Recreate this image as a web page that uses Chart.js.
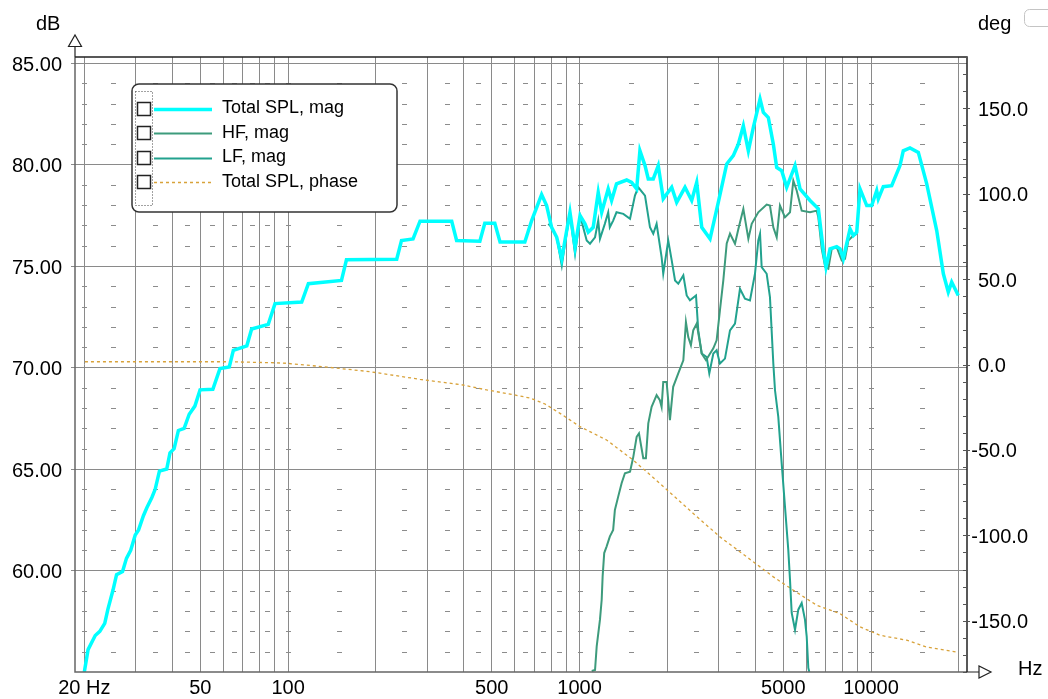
<!DOCTYPE html>
<html>
<head>
<meta charset="utf-8">
<script src="https://cdn.jsdelivr.net/npm/chart.js@4.4.1/dist/chart.umd.min.js"></script>
<style>
  html, body { margin: 0; padding: 0; background: #fff; }
  #wrap { width: 1048px; height: 699px; }
</style>
</head>
<body>
<div id="wrap"><canvas id="spl" width="1048" height="699"></canvas></div>
<script>
const FONT = "'Liberation Sans', Arial, sans-serif";

// axis layout
const gridFreqs = [20, 30, 40, 50, 60, 70, 80, 90, 100, 200, 300, 400, 500, 600, 700, 800, 900,
  1000, 2000, 3000, 4000, 5000, 6000, 7000, 8000, 9000, 10000, 20000];
const dashFreqs = [20, 25, 35, 45, 55, 65, 75, 85, 100, 150, 250, 350, 450, 550, 650, 750, 850,
  1000, 1500, 2500, 3500, 4500, 5500, 6500, 7500, 8500, 10000, 15000];
const freqLabels = { 20: "20 Hz", 50: "50", 100: "100", 500: "500", 1000: "1000", 5000: "5000", 10000: "10000" };
const dbTicks = [60, 65, 70, 75, 80, 85];
const minorDb = [56, 57, 58, 59, 61, 62, 63, 64, 66, 67, 68, 69, 71, 72, 73, 74, 76, 77, 78, 79, 81, 82, 83, 84];
const degTicks = [-180, -170, -160, -150, -140, -130, -120, -110, -100, -90, -80, -70, -60, -50, -40, -30, -20, -10,
  0, 10, 20, 30, 40, 50, 60, 70, 80, 90, 100, 110, 120, 130, 140, 150, 160, 170, 180];
const degLabels = [-150, -100, -50, 0, 50, 100, 150];

// Total SPL, mag
const totalFreq = [20, 20.6, 21.8, 22.6, 23.5, 24.1, 25.1, 25.8, 27.05, 27.9,
  28.85, 29.9, 30.7, 31.9, 32.8, 34.1, 35.0, 36.2, 38.35, 39.35,
  40.65, 42.05, 44.0, 45.8, 47.9, 49.9, 55.2, 58.4, 62.85, 64.9,
  72.2, 75.0, 85.5, 90.2, 111.4, 117.4, 152.5, 158.6, 235.9, 245,
  268.4, 283.6, 364.3, 378.6, 455, 473, 512, 533.7, 649, 685,
  741, 771, 802, 835, 869, 891, 927, 965, 1004, 1044,
  1071, 1114, 1159, 1191, 1254, 1288, 1339, 1451, 1509, 1570,
  1611, 1677, 1721, 1790, 1862, 1937, 2071, 2154, 2300, 2425,
  2523, 2625, 2803, 2992, 3198, 3369, 3506, 3647, 3794, 3947,
  4161, 4271, 4442, 4621, 4746, 4937, 5136, 5485, 5706, 6176,
  6595, 6860, 7008, 7233, 7625, 7828, 8032, 8471, 8695, 8932,
  9166, 9666, 10054, 10457, 10590, 11016, 11772, 12569, 12899, 13602,
  14528, 15525, 16800, 17704, 18407, 18908, 19920];
const totalDb = [55.0, 56.1, 56.8, 57.0, 57.4, 58.1, 59.05, 59.8, 59.95, 60.6,
  61.0, 61.75, 62.0, 62.7, 63.1, 63.6, 64.0, 64.9, 65.0, 65.8,
  66.0, 66.9, 67.0, 67.7, 68.1, 68.9, 68.93, 69.95, 70.03, 70.85,
  71.07, 71.9, 72.13, 73.15, 73.23, 74.13, 74.29, 75.31, 75.34, 76.26,
  76.34, 77.21, 77.21, 76.26, 76.22, 77.11, 77.11, 76.18, 76.18, 77.24,
  78.52, 77.98, 76.91, 76.42, 75.36, 76.26, 77.65, 75.93, 77.49, 77.08,
  76.67, 76.91, 78.63, 77.65, 78.80, 78.23, 79.05, 79.24, 79.12, 78.80,
  80.68, 79.95, 79.29, 79.29, 79.95, 78.31, 78.88, 78.14, 78.88, 78.23,
  79.12, 76.91, 76.34, 78.14, 80.03, 80.44, 81.01, 81.91, 80.68, 81.83,
  83.23, 82.57, 82.32, 81.01, 79.86, 79.70, 78.88, 79.95, 78.80, 78.23,
  77.82, 75.77, 74.95, 75.85, 75.96, 75.85, 75.36, 76.83, 76.50, 76.67,
  78.80, 77.98, 77.98, 78.72, 78.31, 78.91, 78.96, 79.95, 80.68, 80.82,
  80.60, 79.05, 76.75, 74.62, 73.72, 74.21, 73.55];

// HF, mag
const hfFreq = [1101, 1130, 1145, 1175, 1191, 1200, 1215, 1238, 1270, 1304,
  1322, 1357, 1394, 1431, 1490, 1529, 1570, 1599, 1654, 1689,
  1721, 1767, 1838, 1886, 1912, 1937, 1989, 2042, 2095, 2181,
  2270, 2317, 2360, 2410, 2455, 2523, 2625, 2715, 2877, 2953,
  3031, 3113, 3198, 3282, 3414, 3506, 3647, 3794, 3896, 4104,
  4385, 4500, 4621, 4746, 4870, 5067, 5272, 5412, 5557, 5782,
  6176, 6512, 6595, 6774, 6966, 7136, 7330, 7625, 7932, 8141,
  8357, 8695, 8932];
const hfDb = [55.05, 55.1, 56.26, 57.58, 58.56, 59.71, 60.86, 61.18, 61.67, 62.0,
  62.98, 63.64, 64.30, 64.79, 64.87, 65.60, 66.59, 66.76, 65.53, 65.53,
  67.25, 68.06, 68.64, 68.39, 68.06, 69.29, 69.29, 67.41, 69.05, 69.71,
  70.36, 72.24, 71.50, 71.10, 71.83, 72.16, 70.69, 70.36, 70.95, 71.34,
  72.82, 74.29, 76.11, 76.60, 76.10, 76.83, 77.82, 76.34, 77.08, 77.65,
  78.03, 77.98, 76.91, 76.42, 77.98, 77.40, 77.65, 79.21, 78.72, 77.73,
  77.65, 77.73, 77.40, 75.85, 74.95, 74.87, 75.85, 75.93, 75.28, 75.36,
  76.26, 76.50, 76.59];

// LF, mag (below ~780 Hz it lies under the total curve)
const lfFreq = [781, 802, 835, 869, 891, 927, 965, 1004, 1058, 1086,
  1130, 1159, 1175, 1221, 1254, 1270, 1304, 1339, 1413, 1490,
  1549, 1590, 1677, 1744, 1790, 1838, 1912, 1937, 2015, 2071,
  2126, 2181, 2270, 2331, 2392, 2509, 2554, 2625, 2729, 2787,
  2877, 2953, 3031, 3154, 3282, 3414, 3551, 3694, 3843, 3998,
  4104, 4161, 4215, 4385, 4500, 4621, 4683, 4806, 4937, 5067,
  5201, 5272, 5343, 5485, 5629, 5782, 5934, 6015, 6093, 6140];
const lfDb = [77.08, 76.91, 76.42, 75.03, 76.10, 77.57, 75.60, 77.49, 76.26, 76.10,
  76.42, 77.24, 76.34, 77.08, 77.65, 76.91, 77.24, 77.65, 77.57, 77.33,
  78.47, 78.88, 78.47, 76.91, 76.59, 77.08, 75.44, 74.62, 76.26, 75.28,
  74.29, 74.13, 74.54, 73.55, 73.31, 73.55, 71.83, 70.69, 70.52, 69.71,
  70.69, 70.85, 70.20, 70.44, 71.83, 72.16, 73.88, 73.39, 73.31, 74.62,
  76.26, 76.59, 74.95, 74.62, 73.47, 70.20, 68.88, 67.57, 65.28, 63.15,
  61.02, 59.54, 57.91, 57.08, 58.07, 58.40, 57.58, 56.76, 55.20, 55.0];

// Total SPL, phase (deg)
const phaseFreq = [20.1, 33.6, 63.3, 90.2, 99.0, 132.1, 191.1, 283.6, 399, 480,
  578, 676, 761, 857, 1004, 1238, 1529, 1886, 2455, 3031,
  3745, 4621, 5412, 6512, 7828, 9166, 10733, 13253, 15525, 19664];
const phaseDeg = [1.6, 1.6, 1.6, 1.0, 0.7, -1.3, -4.2, -8.7, -12.0, -14.9,
  -17.3, -19.6, -23.1, -28.6, -36.4, -44.2, -56.0, -69.6, -87.2, -100.9,
  -112.6, -124.3, -132.1, -140.9, -145.8, -153.6, -158.5, -161.4, -165.4, -168.3];

function pairs(xs, ys) {
  return xs.map((x, i) => ({ x, y: ys[i] }));
}

const decor = {
  id: "decor",
  beforeDatasetsDraw(chart) {
    const { ctx, scales: { x, y } } = chart;
    ctx.save();
    ctx.strokeStyle = "#8c8c8c";
    ctx.lineWidth = 1;
    ctx.beginPath();
    for (const db of minorDb) {
      const py = Math.round(y.getPixelForValue(db)) + 0.5;
      for (const f of dashFreqs) {
        const px = Math.round(x.getPixelForValue(f));
        ctx.moveTo(px - 2, py);
        ctx.lineTo(px + 3, py);
      }
    }
    ctx.stroke();
    ctx.restore();
  },
  afterDraw(chart) {
    const { ctx, chartArea: a, scales: { yr } } = chart;
    ctx.save();

    // frame
    ctx.lineWidth = 1.5;
    ctx.strokeStyle = "#666";
    ctx.beginPath();
    ctx.moveTo(a.left, a.top); ctx.lineTo(a.left, a.bottom); ctx.lineTo(a.right, a.bottom);
    ctx.stroke();
    ctx.strokeStyle = "#222";
    ctx.beginPath();
    ctx.moveTo(a.left, a.top); ctx.lineTo(a.right, a.top); ctx.lineTo(a.right, a.bottom);
    ctx.stroke();

    // right axis tick marks (inside the frame)
    ctx.lineWidth = 1;
    ctx.strokeStyle = "#555";
    ctx.beginPath();
    for (const t of yr.ticks) {
      const py = Math.round(yr.getPixelForValue(t.value)) + 0.5;
      const major = t.value % 50 === 0;
      ctx.moveTo(a.right - 4, py);
      ctx.lineTo(a.right + (major ? 3 : 0), py);
    }
    ctx.stroke();

    // right axis labels, minus sign hanging to the left
    ctx.fillStyle = "#000";
    ctx.font = "20px " + FONT;
    ctx.textBaseline = "middle";
    for (const v of degLabels) {
      const py = yr.getPixelForValue(v) + 2;
      ctx.textAlign = "left";
      ctx.fillText(Math.abs(v).toFixed(1), a.right + 11, py);
      if (v < 0) {
        ctx.textAlign = "right";
        ctx.fillText("-", a.right + 11, py);
      }
    }

    // axis arrows
    ctx.lineWidth = 1.2;
    ctx.strokeStyle = "#222";
    ctx.fillStyle = "#fff";
    ctx.beginPath();
    ctx.moveTo(a.left, a.top); ctx.lineTo(a.left, a.top - 10);
    ctx.moveTo(a.right, a.bottom); ctx.lineTo(a.right + 12, a.bottom);
    ctx.stroke();
    ctx.beginPath();
    ctx.moveTo(a.left - 6.5, a.top - 10.5); ctx.lineTo(a.left + 6.5, a.top - 10.5); ctx.lineTo(a.left, a.top - 22);
    ctx.closePath(); ctx.fill(); ctx.stroke();
    ctx.beginPath();
    ctx.moveTo(a.right + 12, a.bottom - 6); ctx.lineTo(a.right + 12, a.bottom + 6); ctx.lineTo(a.right + 24, a.bottom);
    ctx.closePath(); ctx.fill(); ctx.stroke();

    // axis units
    ctx.fillStyle = "#000";
    ctx.textAlign = "left";
    ctx.fillText("dB", 36, 24);
    ctx.fillText("deg", 978, 24);
    ctx.fillText("Hz", 1018, 669);

    // small box in the top right corner
    ctx.strokeStyle = "#c4c4c4";
    ctx.lineWidth = 1;
    ctx.beginPath();
    ctx.roundRect(1024.5, 9.5, 40, 17, 5);
    ctx.stroke();

    // legend
    const bx = 132, by = 84, bw = 265, bh = 128;
    ctx.fillStyle = "#fff";
    ctx.strokeStyle = "#333";
    ctx.lineWidth = 1.5;
    ctx.beginPath();
    ctx.roundRect(bx, by, bw, bh, 7);
    ctx.fill(); ctx.stroke();
    ctx.lineWidth = 1;
    ctx.strokeStyle = "#444";
    ctx.setLineDash([1, 2]);
    ctx.strokeRect(135.5, 91.5, 17, 114);
    ctx.setLineDash([]);
    ctx.font = "18px " + FONT;
    chart.data.datasets.forEach((ds, i) => {
      const ry = 108.5 + i * 24.5;
      ctx.lineWidth = 1.5;
      ctx.strokeStyle = "#222";
      ctx.strokeRect(137.5, Math.round(ry) - 6.5, 13, 13);
      ctx.strokeStyle = ds.borderColor;
      ctx.lineWidth = ds.borderWidth;
      ctx.setLineDash(ds.borderDash || []);
      ctx.beginPath();
      ctx.moveTo(154, Math.round(ry) + 0.5);
      ctx.lineTo(212, Math.round(ry) + 0.5);
      ctx.stroke();
      ctx.setLineDash([]);
      ctx.fillStyle = "#000";
      ctx.fillText(ds.label, 222, ry);
    });
    ctx.restore();
  }
};

const tickFont = { family: FONT, size: 20 };

new Chart(document.getElementById("spl"), {
  type: "line",
  data: {
    datasets: [
      { label: "Total SPL, mag", data: pairs(totalFreq, totalDb), borderColor: "#00FFFF", borderWidth: 3.5, yAxisID: "y" },
      { label: "HF, mag", data: pairs(hfFreq, hfDb), borderColor: "#3D9B7C", borderWidth: 2, yAxisID: "y" },
      { label: "LF, mag", data: pairs(lfFreq, lfDb), borderColor: "#22A28E", borderWidth: 2, yAxisID: "y" },
      { label: "Total SPL, phase", data: pairs(phaseFreq, phaseDeg), borderColor: "#D8A23A", borderWidth: 1.3, borderDash: [3, 3], yAxisID: "yr" }
    ]
  },
  options: {
    responsive: false,
    animation: false,
    layout: { padding: { top: 57, left: 0, right: 0, bottom: 0 } },
    plugins: { legend: { display: false }, tooltip: { enabled: false } },
    elements: { point: { radius: 0 }, line: { tension: 0 } },
    scales: {
      x: {
        type: "logarithmic",
        position: "bottom",
        min: 18.58,
        max: 21340,
        afterBuildTicks: (s) => { s.ticks = gridFreqs.map((v) => ({ value: v })); },
        afterFit: (s) => { s.height = 27; },
        grid: { color: "#8a8a8a", lineWidth: 1, drawTicks: false },
        border: { display: false },
        ticks: {
          autoSkip: false, maxRotation: 0, padding: 4, color: "#000", font: tickFont,
          callback: (v) => freqLabels[v] || ""
        }
      },
      y: {
        type: "linear",
        position: "left",
        min: 55,
        max: 85.3,
        afterBuildTicks: (s) => { s.ticks = dbTicks.map((v) => ({ value: v })); },
        afterFit: (s) => { s.width = 75; },
        grid: { color: "#8a8a8a", lineWidth: 1, tickLength: 4 },
        border: { display: false },
        ticks: { padding: 9, labelOffset: 2, color: "#000", font: tickFont, callback: (v) => v.toFixed(2) }
      },
      yr: {
        type: "linear",
        position: "right",
        min: -180,
        max: 180,
        afterBuildTicks: (s) => { s.ticks = degTicks.map((v) => ({ value: v })); },
        afterFit: (s) => { s.width = 81; },
        grid: { display: false },
        border: { display: false },
        ticks: { display: false }
      }
    }
  },
  plugins: [decor]
});
</script>
</body>
</html>
